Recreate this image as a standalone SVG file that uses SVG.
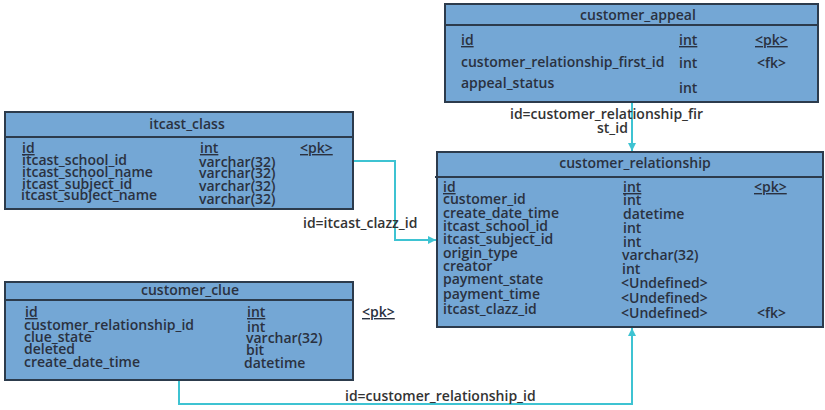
<svg xmlns="http://www.w3.org/2000/svg" width="825" height="410" viewBox="0 0 825 410">
  <style>
    .tbl { fill: #74a7d5; stroke: #2c3b4c; stroke-width: 2; }
    .sep { stroke: #2c3b4c; stroke-width: 2; }
    text { font-family: "Open Sans", "Liberation Sans", sans-serif; font-size: 14px; font-weight: 600; fill: #2a3140; }
    .title { text-anchor: middle; }
    .u { text-decoration: underline; }
    .lbl { fill: #333333; }
    .conn { fill: none; stroke: #3ec3d2; stroke-width: 2; marker-end: url(#arrow); }
  </style>
  <defs>
    <marker id="arrow" viewBox="0 0 10 10" refX="10" refY="5" markerWidth="8" markerHeight="8" orient="auto" markerUnits="userSpaceOnUse">
      <path d="M0,0 L10,5 L0,10 Z" fill="#3ec3d2"/>
    </marker>
  </defs>

  <!-- relationships -->
  <g id="connectors">
    <path class="conn" d="M632,103 V151"/>
    <path class="conn" d="M354,161 H395 V240 H436"/>
    <path class="conn" d="M179,381 V404 H632 V328"/>
    <text class="lbl" x="510" y="119">id=customer_relationship_fir</text>
    <text class="lbl" x="597" y="133">st_id</text>
    <text class="lbl" x="303" y="228">id=itcast_clazz_id</text>
    <text class="lbl" x="345" y="401">id=customer_relationship_id</text>
  </g>

  <!-- customer_appeal -->
  <g id="customer_appeal">
    <rect class="tbl" x="445" y="4" width="373" height="98"/>
    <line class="sep" x1="445" y1="25" x2="818" y2="25"/>
    <text class="title" x="638" y="20">customer_appeal</text>
    <text class="u" x="461" y="45">id</text>
    <text class="u" x="679" y="45">int</text>
    <text class="u" x="755" y="45">&lt;pk&gt;</text>
    <text x="461" y="67">customer_relationship_first_id</text>
    <text x="679" y="68">int</text>
    <text x="757" y="68">&lt;fk&gt;</text>
    <text x="461" y="88">appeal_status</text>
    <text x="679" y="93">int</text>
  </g>

  <!-- itcast_class -->
  <g id="itcast_class">
    <rect class="tbl" x="5" y="112" width="348" height="97"/>
    <line class="sep" x1="5" y1="137" x2="353" y2="137"/>
    <text class="title" x="187" y="129">itcast_class</text>
    <text class="u" x="22" y="153">id</text>
    <text x="22" y="165">itcast_school_id</text>
    <text x="22" y="177">itcast_school_name</text>
    <text x="22" y="189">itcast_subject_id</text>
    <text x="21" y="200">itcast_subject_name</text>
    <text class="u" x="200" y="153">int</text>
    <text x="199" y="167">varchar(32)</text>
    <text x="199" y="178">varchar(32)</text>
    <text x="199" y="191">varchar(32)</text>
    <text x="199" y="204">varchar(32)</text>
    <text class="u" x="300" y="153">&lt;pk&gt;</text>
  </g>

  <!-- customer_relationship -->
  <g id="customer_relationship">
    <rect class="tbl" x="437" y="152" width="386" height="175"/>
    <line class="sep" x1="435" y1="177" x2="823" y2="177"/>
    <text class="title" x="635" y="168">customer_relationship</text>
    <text class="u" x="443" y="192">id</text>
    <text x="443" y="204">customer_id</text>
    <text x="443" y="218">create_date_time</text>
    <text x="443" y="231">itcast_school_id</text>
    <text x="443" y="244">itcast_subject_id</text>
    <text x="443" y="258">origin_type</text>
    <text x="443" y="271">creator</text>
    <text x="443" y="284">payment_state</text>
    <text x="443" y="299">payment_time</text>
    <text x="443" y="314">itcast_clazz_id</text>
    <text class="u" x="623" y="192">int</text>
    <text x="623" y="205">int</text>
    <text x="623" y="219">datetime</text>
    <text x="623" y="233">int</text>
    <text x="623" y="247">int</text>
    <text x="622" y="260">varchar(32)</text>
    <text x="622" y="274">int</text>
    <text x="621" y="288">&lt;Undefined&gt;</text>
    <text x="621" y="303">&lt;Undefined&gt;</text>
    <text x="621" y="318">&lt;Undefined&gt;</text>
    <text class="u" x="754" y="192">&lt;pk&gt;</text>
    <text x="757" y="318">&lt;fk&gt;</text>
  </g>

  <!-- customer_clue -->
  <g id="customer_clue">
    <rect class="tbl" x="5" y="282" width="348" height="98"/>
    <line class="sep" x1="5" y1="300" x2="353" y2="300"/>
    <text class="title" x="190" y="295">customer_clue</text>
    <text class="u" x="25" y="317">id</text>
    <text x="24" y="330">customer_relationship_id</text>
    <text x="24" y="342">clue_state</text>
    <text x="24" y="354">deleted</text>
    <text x="24" y="367">create_date_time</text>
    <text class="u" x="247" y="317">int</text>
    <text x="247" y="332">int</text>
    <text x="246" y="343">varchar(32)</text>
    <text x="246" y="355">bit</text>
    <text x="244" y="368">datetime</text>
    <text class="u" x="362" y="317">&lt;pk&gt;</text>
  </g>
</svg>
